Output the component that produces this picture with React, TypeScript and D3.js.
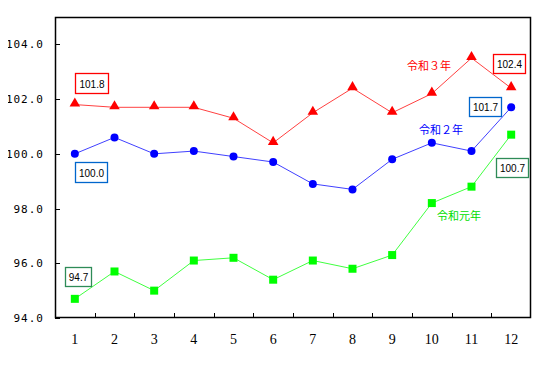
import * as d3 from "d3";
import { useEffect, useRef } from "react";

const months = ["1", "2", "3", "4", "5", "6", "7", "8", "9", "10", "11", "12"];
const reiwa3 = [101.8, 101.7, 101.7, 101.7, 101.3, 100.4, 101.5, 102.4, 101.5, 102.2, 103.5, 102.4];
const reiwa2 = [100.0, 100.6, 100.0, 100.1, 99.9, 99.7, 98.9, 98.7, 99.8, 100.4, 100.1, 101.7];
const reiwa1 = [94.7, 95.7, 95.0, 96.1, 96.2, 95.4, 96.1, 95.8, 96.3, 98.2, 98.8, 100.7];
const yTicks = [94, 96, 98, 100, 102, 104];
const seriesNames = ["令和３年", "令和２年", "令和元年"];

export default function App() {
    const ref = useRef(null);

    useEffect(() => {
        const width = 547;
        const height = 375;
        const marginTop = 17;
        const marginRight = 16;
        const marginBottom = 57;
        const marginLeft = 55;

        const x = d3.scaleBand()
            .domain(months)
            .range([marginLeft, width - marginRight]);

        const y = d3.scaleLinear()
            .domain([94, 105])
            .range([height - marginBottom, marginTop]);

        const cx = (i) => x(months[i]) + x.bandwidth() / 2;

        const root = d3.select(ref.current);
        root.selectAll("*").remove();
        const svg = root.append("svg")
            .attr("width", width)
            .attr("height", height)
            .style("display", "block");

        svg.append("rect").attr("width", width).attr("height", height).attr("fill", "#fff");

        // plot frame
        svg.append("rect")
            .attr("x", marginLeft + 0.5)
            .attr("y", marginTop + 0.5)
            .attr("width", width - marginLeft - marginRight - 1)
            .attr("height", height - marginTop - marginBottom - 1)
            .attr("fill", "none")
            .attr("stroke", "#000")
            .attr("stroke-width", 1.5);

        // y axis ticks (inside) and labels
        svg.append("g")
            .selectAll("line")
            .data(yTicks)
            .join("line")
            .attr("x1", marginLeft)
            .attr("x2", marginLeft + 5)
            .attr("y1", d => Math.round(y(d)) + 0.5)
            .attr("y2", d => Math.round(y(d)) + 0.5)
            .attr("stroke", "#000");

        svg.append("g")
            .selectAll("text")
            .data(yTicks)
            .join("text")
            .attr("x", 44)
            .attr("y", d => y(d) + 4)
            .attr("text-anchor", "end")
            .attr("font-family", "DejaVu Sans Mono")
            .attr("font-size", 11)
            .attr("letter-spacing", 1)
            .text(d => d.toFixed(1));

        // x axis ticks at category boundaries (inside)
        svg.append("g")
            .selectAll("line")
            .data(months.slice(1))
            .join("line")
            .attr("x1", d => Math.round(x(d)) + 0.5)
            .attr("x2", d => Math.round(x(d)) + 0.5)
            .attr("y1", height - marginBottom)
            .attr("y2", height - marginBottom - 5)
            .attr("stroke", "#000");

        svg.append("g")
            .selectAll("text")
            .data(months)
            .join("text")
            .attr("x", (d, i) => cx(i))
            .attr("y", 344)
            .attr("text-anchor", "middle")
            .attr("font-family", "Liberation Serif")
            .attr("font-size", 14)
            .text(d => d);

        const line = d3.line()
            .x((d, i) => cx(i))
            .y(d => y(d));

        const series = [
            { values: reiwa1, color: "#00ff00", marker: "square" },
            { values: reiwa2, color: "#0000ff", marker: "circle" },
            { values: reiwa3, color: "#ff0000", marker: "triangle" },
        ];

        series.forEach(s => {
            svg.append("path")
                .datum(s.values)
                .attr("d", line)
                .attr("fill", "none")
                .attr("stroke", s.color)
                .attr("stroke-opacity", 0.75)
                .attr("stroke-width", 1);

            const g = svg.append("g").attr("fill", s.color);
            if (s.marker === "square") {
                g.selectAll("rect").data(s.values).join("rect")
                    .attr("x", (d, i) => cx(i) - 4)
                    .attr("y", d => y(d) - 4)
                    .attr("width", 8)
                    .attr("height", 8);
            } else if (s.marker === "circle") {
                g.selectAll("circle").data(s.values).join("circle")
                    .attr("cx", (d, i) => cx(i))
                    .attr("cy", d => y(d))
                    .attr("r", 4);
            } else {
                const tri = d3.symbol(d3.symbolTriangle, 48);
                g.selectAll("path").data(s.values).join("path")
                    .attr("d", tri)
                    .attr("transform", (d, i) => `translate(${cx(i)},${y(d) - 1})`);
            }
        });

        // value boxes
        const boxes = [
            { v: reiwa3[0], x: 75, y: 73, w: 33, h: 20, color: "#ff0000" },
            { v: reiwa2[0], x: 75, y: 162, w: 32, h: 20, color: "#0066cc" },
            { v: reiwa1[0], x: 65, y: 267, w: 26, h: 19, color: "#2e8b57" },
            { v: reiwa3[11], x: 493, y: 54, w: 32, h: 19, color: "#ff0000" },
            { v: reiwa2[11], x: 469, y: 97, w: 32, h: 19, color: "#0066cc" },
            { v: reiwa1[11], x: 496, y: 158, w: 32, h: 19, color: "#2e8b57" },
        ];
        const bg = svg.append("g");
        boxes.forEach(b => {
            bg.append("rect")
                .attr("x", b.x + 0.5)
                .attr("y", b.y + 0.5)
                .attr("width", b.w)
                .attr("height", b.h)
                .attr("fill", "#fff")
                .attr("stroke", b.color)
                .attr("stroke-width", 1.3);
            bg.append("text")
                .attr("x", b.x + b.w / 2 + 0.5)
                .attr("y", b.y + b.h / 2 + 4.5)
                .attr("text-anchor", "middle")
                .attr("font-family", "Liberation Sans")
                .attr("font-size", 10)
                .text(b.v.toFixed(1));
        });

        // series names
        const names = [
            { t: seriesNames[0], x: 429, y: 70, color: "#ff0000" },
            { t: seriesNames[1], x: 441, y: 134, color: "#0000ff" },
            { t: seriesNames[2], x: 459, y: 220, color: "#00dd00" },
        ];
        svg.append("g")
            .selectAll("text")
            .data(names)
            .join("text")
            .attr("x", d => d.x)
            .attr("y", d => d.y)
            .attr("text-anchor", "middle")
            .attr("font-family", "Noto Sans CJK JP")
            .attr("font-size", 11)
            .attr("fill", d => d.color)
            .text(d => d.t);
    }, []);

    return <div ref={ref} style={{ margin: -8 }}></div>;
}
